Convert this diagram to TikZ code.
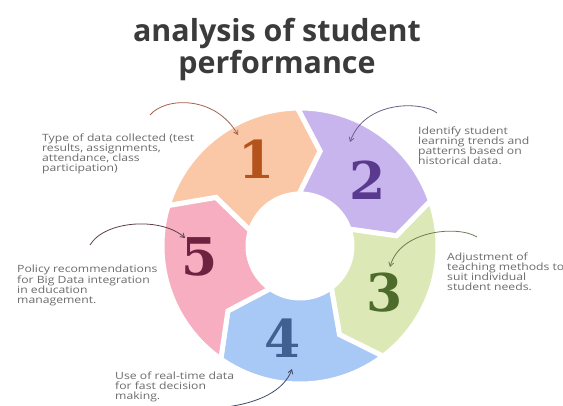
\documentclass[tikz,border=0pt]{standalone}
\usepackage{fontspec}
\usetikzlibrary{arrows.meta}
\newfontfamily\titlefont{Open Sans}
\newfontfamily\bodyfont[FakeStretch=1.22]{Open Sans}
\newfontfamily\digitfont{DejaVu Serif}

\definecolor{segA}{HTML}{FAC8A6}
\definecolor{segB}{HTML}{C8B5EE}
\definecolor{segC}{HTML}{DCE8B5}
\definecolor{segD}{HTML}{A8C8F6}
\definecolor{segE}{HTML}{F6AEC0}
\definecolor{numA}{HTML}{B4541C}
\definecolor{numB}{HTML}{5A3A8E}
\definecolor{numC}{HTML}{4D6B2A}
\definecolor{numD}{HTML}{3F6090}
\definecolor{numE}{HTML}{6E2240}
\definecolor{arrA}{HTML}{A0624F}
\definecolor{arrB}{HTML}{6E5F85}
\definecolor{arrC}{HTML}{6D7D55}
\definecolor{arrD}{HTML}{3D4A66}
\definecolor{arrE}{HTML}{5A3F4A}
\definecolor{titlegray}{HTML}{3B3B3B}
\definecolor{textgray}{HTML}{6B6B6B}

\tikzset{
  ringpart/.style={draw=white, line width=5pt, line join=miter},
  stepnum/.style={font=\digitfont\bfseries\fontsize{52}{52}\selectfont, inner sep=0pt},
  blurb/.style={anchor=north west, align=left, inner sep=0pt, text=textgray,
    font=\bodyfont\fontsize{10}{10}\selectfont},
  pointer/.style={line width=0.8pt, -{Straight Barb[length=4pt,width=5pt]}}
}

\begin{document}
\begin{tikzpicture}[x=1pt, y=1pt]
  \useasboundingbox (0,0) rectangle (563,405);
  \fill[white] (0,0) rectangle (563,405);

  % title
  \node[anchor=north, align=center, inner sep=0pt, text=titlegray,
        font=\titlefont\bfseries\fontsize{30.4}{32}\selectfont]
        (title) at (277,387) {analysis of student\\performance};

  % ring of five chevron segments, running clockwise
  \begin{scope}[shift={(300,159)}]
    \foreach \t/\c in {117/segA, 45/segB, -27/segC, -99/segD, -171/segE}{
      \pgfmathsetmacro\a{\t+46}
      \pgfmathsetmacro\b{\t-26}
      \pgfmathsetmacro\p{\t-39}
      \pgfmathsetmacro\n{\t+33}
      \filldraw[ringpart, fill=\c]
        (\a:138pt) arc[start angle=\a, end angle=\b, radius=138pt]
        -- (\p:97pt) -- (\b:52pt)
        arc[start angle=\b, end angle=\a, radius=52pt]
        -- (\n:97pt) -- cycle;
    }
  \end{scope}

  % step numbers
  \node[stepnum, text=numA] (d1) at (257,246) {1};
  \node[stepnum, text=numB] (d2) at (368,225) {2};
  \node[stepnum, text=numC] (d3) at (385,112) {3};
  \node[stepnum, text=numD] (d4) at (283,67) {4};
  \node[stepnum, text=numE] (d5) at (200,148) {5};

  % descriptions
  \node[blurb] (t1) at (42,271.6) {Type of data collected (test\\results, assignments,\\attendance, class\\participation)};
  \node[blurb] (t2) at (418,278.6) {Identify student\\learning trends and\\patterns based on\\historical data.};
  \node[blurb] (t3) at (447,152.6) {Adjustment of\\teaching methods to\\suit individual\\student needs.};
  \node[blurb] (t4) at (115,33.6) {Use of real-time data\\for fast decision\\making.};
  \node[blurb] (t5) at (17,140.6) {Policy recommendations\\for Big Data integration\\in education\\management.};

  % pointer ends
  \coordinate (s1) at (150,290); \coordinate (e1) at (238,270);
  \coordinate (s2) at (437,292); \coordinate (e2) at (350,263);
  \coordinate (s3) at (477,168); \coordinate (e3) at (390,138);
  \coordinate (s4) at (226,-2);  \coordinate (e4) at (292,36);
  \coordinate (s5) at (90,160);  \coordinate (e5) at (185,167);

  % curved pointers from the descriptions to the numbers
  \draw[pointer, arrA] (s1) .. controls (165,308) and (215,310) .. (e1);
  \draw[pointer, arrB] (s2) .. controls (422,304) and (365,305) .. (e2);
  \draw[pointer, arrC] (s3) .. controls (458,180) and (400,175) .. (e3);
  \draw[pointer, arrD] (s4) .. controls (258,2) and (284,14) .. (e4);
  \draw[pointer, arrE] (s5) .. controls (105,185) and (162,188) .. (e5);
\end{tikzpicture}
\end{document}
